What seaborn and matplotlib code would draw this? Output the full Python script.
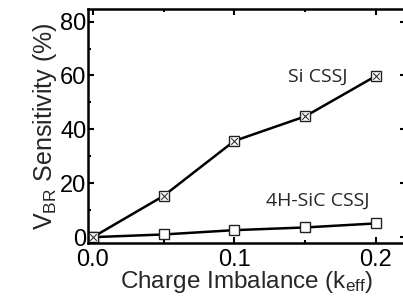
import numpy as np
import pandas as pd
import matplotlib
matplotlib.use("Agg")
import matplotlib.pyplot as plt
import seaborn as sns
from matplotlib.ticker import MultipleLocator

k_eff = [0.0, 0.05, 0.10, 0.15, 0.20]
si_sens = [0.0, 15.3, 35.7, 44.8, 59.8]
sic_sens = [0.0, 1.0, 2.6, 3.6, 5.1]
series_names = ["Si CSSJ", "4H-SiC CSSJ"]
x_ticks = [0.0, 0.1, 0.2]
y_ticks = [0, 20, 40, 60, 80]

sns.set_style("ticks")
plt.rcParams["font.family"] = ["Liberation Sans", "DejaVu Sans"]
plt.rcParams["mathtext.fontset"] = "custom"
plt.rcParams["mathtext.rm"] = "Liberation Sans"
plt.rcParams["mathtext.it"] = "Liberation Sans"

df = pd.DataFrame({
    "k": k_eff * 2,
    "v": si_sens + sic_sens,
    "s": [series_names[0]] * len(k_eff) + [series_names[1]] * len(k_eff),
})

fig = plt.figure(figsize=(4.03, 3.05), dpi=100)
ax = fig.add_axes([0.218, 0.203, 0.79, 0.766])

sns.lineplot(data=df, x="k", y="v", hue="s", palette=["black", "black"],
             marker="s", markersize=7.5, markerfacecolor="white",
             markeredgecolor="#222222", markeredgewidth=1.0,
             linewidth=1.8, legend=False, ax=ax)
sns.scatterplot(x=k_eff, y=si_sens, marker="x", s=22, color="#333333",
                linewidth=0.8, ax=ax, zorder=5)

ax.set_xlim(-0.0035, 0.2215)
ax.set_ylim(-2.2, 84.5)
ax.set_xticks(x_ticks)
ax.set_xticklabels(["0.0", "0.1", "0.2"])
ax.set_yticks(y_ticks)
ax.xaxis.set_minor_locator(MultipleLocator(0.05))
ax.yaxis.set_minor_locator(MultipleLocator(10))
ax.tick_params(which="both", direction="in", top=True, right=True,
               labelsize=17, width=1.5, colors="black")
ax.tick_params(axis="y", pad=1)
ax.tick_params(axis="x", pad=4)
ax.tick_params(which="major", length=4)
ax.tick_params(which="minor", length=2.5)
for name, sp in ax.spines.items():
    sp.set_linewidth(1.8)
    sp.set_color("black")
    sp.set_visible(True)

ax.set_xlabel("Charge Imbalance (k$_{\\mathrm{eff}}$)", fontsize=17.5, labelpad=-1)
ax.set_ylabel("V$_{\\mathrm{BR}}$ Sensitivity (%)", fontsize=18, labelpad=1)

ax.text(0.159, 59.5, series_names[0], fontsize=14, family="Open Sans",
        ha="center", va="center")
ax.text(0.159, 13.5, series_names[1], fontsize=14, family="Open Sans",
        ha="center", va="center")

fig.savefig("out.png", dpi=100)
